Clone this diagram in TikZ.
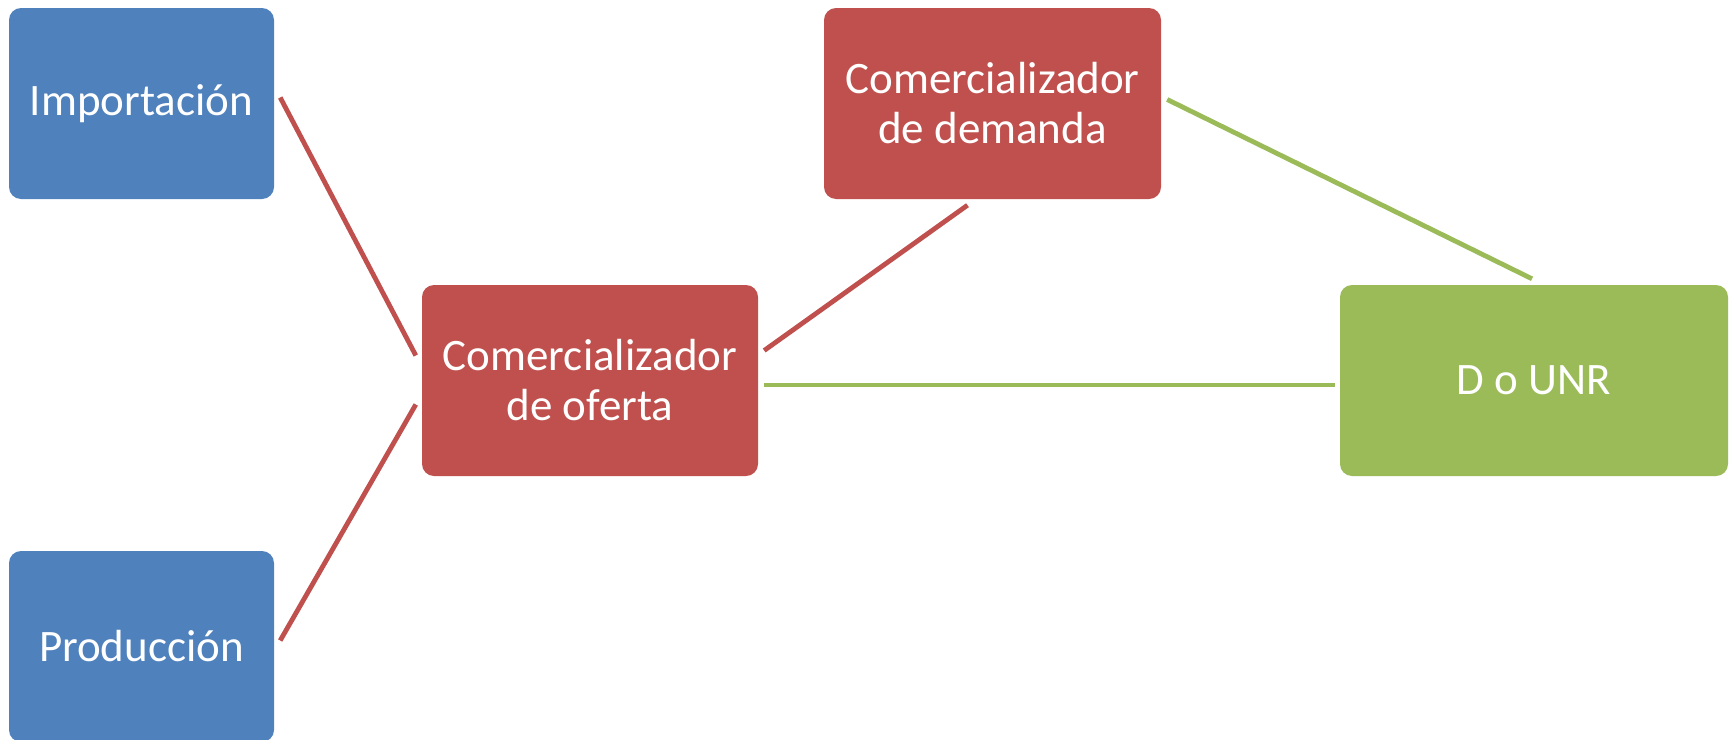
\documentclass[tikz,border=0pt]{standalone}
\usepackage{fontspec}
\setmainfont{Carlito}
\usetikzlibrary{calc}
\definecolor{cblue}{HTML}{4F81BD}
\definecolor{cred}{HTML}{C0504D}
\definecolor{cgreen}{HTML}{9BBB59}
\tikzset{
  box/.style={rounded corners=12pt, inner sep=0pt, text=white, align=center,
    font=\fontsize{45}{50}\selectfont},
  conn/.style={line width=4.8pt},
}
\begin{document}
\begin{tikzpicture}[x=1pt,y=-1pt]
\useasboundingbox (0,0) rectangle (1731,739);
\fill[white] (0,0) rectangle (1731,739);
% boxes
\node[box, fill=cblue, minimum width=265pt, minimum height=191pt] (imp) at (141.5,103.5) {Importación};
\node[box, fill=cblue, minimum width=265pt, minimum height=191pt] (pro) at (141.5,646.5) {Producción};
\node[box, fill=cred, minimum width=336pt, minimum height=191pt] (ofe) at (590,380.5) {Comercializador\\de oferta};
\node[box, fill=cred, minimum width=337pt, minimum height=191pt] (dem) at (992.5,103.5) {Comercializador\\de demanda};
\node[box, fill=cgreen, minimum width=388pt, minimum height=191pt] (dun) at (1534,380.5) {D o UNR};
% connector end points
\coordinate (a1) at ($(imp.east)+(6,-6)$);
\coordinate (a2) at ($(ofe.west)+(-6,-25)$);
\coordinate (b1) at ($(pro.east)+(6,-6)$);
\coordinate (b2) at ($(ofe.west)+(-6,24)$);
\coordinate (c1) at ($(ofe.east)+(6,-30)$);
\coordinate (c2) at ($(dem.south)+(-25,6)$);
\coordinate (d1) at ($(ofe.east)+(6,4.5)$);
\coordinate (d2) at ($(dun.west)+(-5,4.5)$);
\coordinate (e1) at ($(dem.east)+(6,-4)$);
\coordinate (e2) at ($(dun.north)+(-2,-6)$);
% connectors
\draw[conn, cred] (a1) -- (a2);
\draw[conn, cred] (b1) -- (b2);
\draw[conn, cred] (c1) -- (c2);
\draw[conn, cgreen] (d1) -- (d2);
\draw[conn, cgreen] (e1) -- (e2);
\end{tikzpicture}
\end{document}
